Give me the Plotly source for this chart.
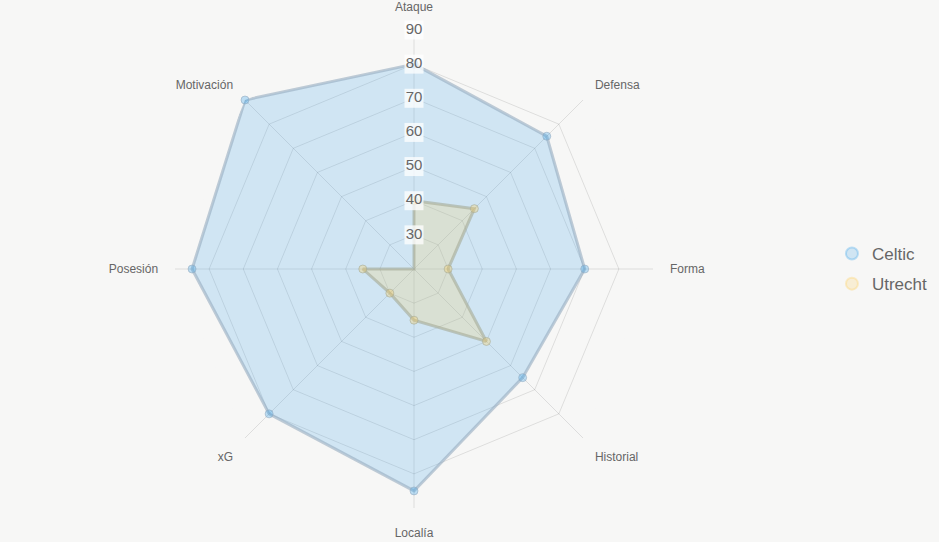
import plotly.graph_objects as go

categories = ["Ataque", "Defensa", "Forma", "Historial", "Localía", "xG", "Posesión", "Motivación"]
celtic = [80, 75, 70, 65, 85, 80, 85, 90]
utrecht = [40, 45, 30, 50, 35, 30, 35, 20]
tick_vals = [30, 40, 50, 60, 70, 80, 90]
series = [
    ("Celtic", celtic, "rgba(54,162,235,0.2)", "rgba(150,172,192,0.6)", "rgba(54,162,235,0.3)"),
    ("Utrecht", utrecht, "rgba(255,206,86,0.2)", "rgba(165,170,150,0.6)", "rgba(255,206,86,0.3)"),
]

BG = "#f7f7f6"
FONT = "Liberation Sans, Arial, Helvetica, sans-serif"

fig = go.Figure()
for name, vals, fillc, linec, ptc in series:
    fig.add_trace(go.Scatterpolar(
        r=vals + vals[:1], theta=categories + categories[:1],
        mode="lines+markers", fill="toself", fillcolor=fillc,
        line=dict(color=linec, width=3),
        marker=dict(size=8, color=ptc, line=dict(color=linec, width=1)),
        name=name, showlegend=False, hoverinfo="r+theta+name",
    ))

# radial tick labels with light background, positioned via the radial scale
fig.add_trace(go.Scatterpolar(
    r=tick_vals, theta=[categories[0]] * len(tick_vals),
    mode="markers+text", text=[str(v) for v in tick_vals],
    textposition="middle center",
    textfont=dict(family=FONT, size=15, color="#666666"),
    marker=dict(symbol="square", size=19, color="rgba(255,255,255,0.75)", line=dict(width=0)),
    showlegend=False, hoverinfo="skip",
))

# legend entries
for name, vals, fillc, linec, ptc in series:
    fig.add_trace(go.Scatterpolar(
        r=[None], theta=[None], mode="markers", name=name, legendgroup=name,
        marker=dict(size=15, color=fillc, line=dict(color=ptc, width=1)),
        showlegend=True,
    ))

fig.update_layout(
    width=939, height=542,
    paper_bgcolor=BG, plot_bgcolor=BG,
    margin=dict(l=0, r=0, t=0, b=0),
    font=dict(family=FONT, color="#666666"),
    polar=dict(
        bgcolor=BG,
        domain=dict(x=[175 / 939, 653 / 939], y=[34 / 542, 512 / 542]),
        gridshape="linear",
        radialaxis=dict(
            range=[20, 90], dtick=10, tick0=0, showticklabels=False, ticks="",
            showline=False, gridcolor="rgba(0,0,0,0.1)", gridwidth=1,
        ),
        angularaxis=dict(
            categoryorder="array", categoryarray=categories,
            rotation=90, direction="clockwise",
            showline=False, gridcolor="rgba(0,0,0,0.1)", gridwidth=1,
            ticks="outside", ticklen=14, tickcolor="rgba(0,0,0,0)",
            tickfont=dict(family=FONT, size=12, color="#666666"),
        ),
    ),
    legend=dict(
        x=0.886, y=0.5037, xanchor="left", yanchor="middle",
        font=dict(family=FONT, size=17, color="#666666"),
        bgcolor="rgba(0,0,0,0)", itemsizing="constant", tracegroupgap=5,
    ),
)

fig.write_html("out.html")
